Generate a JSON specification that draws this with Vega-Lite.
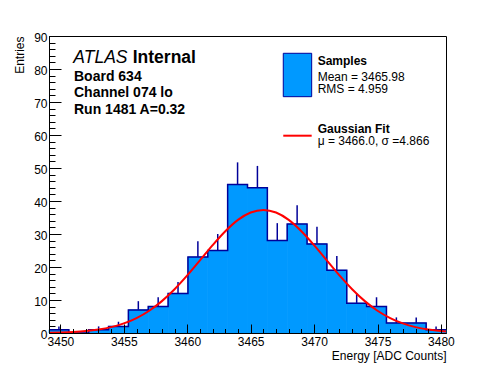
{
  "$schema": "https://vega.github.io/schema/vega-lite/v6.json",
  "width": 397,
  "height": 297,
  "autosize": "none",
  "padding": {"left": 49, "top": 36, "right": 50, "bottom": 39},
  "config": {
    "font": "Liberation Sans",
    "view": {"stroke": "black", "strokeWidth": 1},
    "axis": {"grid": false}
  },
  "datasets": {
    "hist": [
      {"lo": 3449.1, "hi": 3450.665, "mid": 3449.8825, "n": 1, "err": 1},
      {"lo": 3450.665, "hi": 3452.23, "mid": 3451.4475, "n": 0, "err": 0},
      {"lo": 3452.23, "hi": 3453.795, "mid": 3453.0125, "n": 1, "err": 1},
      {"lo": 3453.795, "hi": 3455.36, "mid": 3454.5775, "n": 2, "err": 1.414},
      {"lo": 3455.36, "hi": 3456.925, "mid": 3456.1425, "n": 7, "err": 2.646},
      {"lo": 3456.925, "hi": 3458.49, "mid": 3457.7075, "n": 8, "err": 2.828},
      {"lo": 3458.49, "hi": 3460.055, "mid": 3459.2725, "n": 12, "err": 3.464},
      {"lo": 3460.055, "hi": 3461.62, "mid": 3460.8375, "n": 23, "err": 4.796},
      {"lo": 3461.62, "hi": 3463.185, "mid": 3462.4025, "n": 25, "err": 5},
      {"lo": 3463.185, "hi": 3464.75, "mid": 3463.9675, "n": 45, "err": 6.708},
      {"lo": 3464.75, "hi": 3466.315, "mid": 3465.5325, "n": 44, "err": 6.633},
      {"lo": 3466.315, "hi": 3467.88, "mid": 3467.0975, "n": 28, "err": 5.292},
      {"lo": 3467.88, "hi": 3469.445, "mid": 3468.6625, "n": 33, "err": 5.745},
      {"lo": 3469.445, "hi": 3471.01, "mid": 3470.2275, "n": 27, "err": 5.196},
      {"lo": 3471.01, "hi": 3472.575, "mid": 3471.7925, "n": 19, "err": 4.359},
      {"lo": 3472.575, "hi": 3474.14, "mid": 3473.3575, "n": 9, "err": 3},
      {"lo": 3474.14, "hi": 3475.705, "mid": 3474.9225, "n": 8, "err": 2.828},
      {"lo": 3475.705, "hi": 3477.27, "mid": 3476.4875, "n": 3, "err": 1.732},
      {"lo": 3477.27, "hi": 3478.835, "mid": 3478.0525, "n": 3, "err": 1.732},
      {"lo": 3478.835, "hi": 3480.4, "mid": 3479.6175, "n": 1, "err": 1}
    ],
    "fit": [
      {"x": 3449.1, "f": 0.09}, {"x": 3450, "f": 0.17}, {"x": 3451, "f": 0.32},
      {"x": 3452, "f": 0.59}, {"x": 3453, "f": 1.05}, {"x": 3454, "f": 1.78},
      {"x": 3455, "f": 2.9}, {"x": 3456, "f": 4.52}, {"x": 3457, "f": 6.74},
      {"x": 3458, "f": 9.66}, {"x": 3459, "f": 13.26}, {"x": 3460, "f": 17.44},
      {"x": 3461, "f": 22.0}, {"x": 3462, "f": 26.61}, {"x": 3463, "f": 30.84},
      {"x": 3464, "f": 34.28}, {"x": 3465, "f": 36.52}, {"x": 3466, "f": 37.3},
      {"x": 3467, "f": 36.52}, {"x": 3468, "f": 34.28}, {"x": 3469, "f": 30.84},
      {"x": 3470, "f": 26.61}, {"x": 3471, "f": 22.0}, {"x": 3472, "f": 17.44},
      {"x": 3473, "f": 13.26}, {"x": 3474, "f": 9.66}, {"x": 3475, "f": 6.74},
      {"x": 3476, "f": 4.52}, {"x": 3477, "f": 2.9}, {"x": 3478, "f": 1.78},
      {"x": 3479, "f": 1.05}, {"x": 3480, "f": 0.59}, {"x": 3480.4, "f": 0.47}
    ]
  },
  "resolve": {"axis": {"x": "independent", "y": "independent"}},
  "layer": [
    {
      "data": {"name": "hist"},
      "mark": {"type": "errorbar", "color": "#000099", "thickness": 1.5},
      "encoding": {
        "x": {"field": "mid", "type": "quantitative", "scale": {"domain": [3449.1, 3480.4], "nice": false, "zero": false}, "axis": null},
        "y": {"field": "n", "type": "quantitative", "scale": {"domain": [0, 90], "nice": false}, "axis": null},
        "yError": {"field": "err"}
      }
    },
    {
      "data": {"name": "hist"},
      "mark": {"type": "rect", "fill": "#0099ff", "stroke": "#0099ff", "strokeWidth": 0.8},
      "encoding": {
        "x": {
          "field": "lo", "type": "quantitative",
          "scale": {"domain": [3449.1, 3480.4], "nice": false, "zero": false},
          "axis": {
            "orient": "bottom", "values": [3450, 3455, 3460, 3465, 3470, 3475, 3480], "format": "d",
            "ticks": false, "tickSize": 0, "domain": true, "domainColor": "black", "domainWidth": 1,
            "labelFontSize": 12, "labelColor": "black", "labelPadding": 3, "labelFlush": false, "labelOverlap": false,
            "zindex": 1,
            "title": "Energy [ADC Counts]", "titleFontSize": 12, "titleFontWeight": "normal", "titleColor": "black",
            "titleAnchor": "end", "titleAlign": "right", "titleBaseline": "alphabetic", "titleX": 397, "titleY": 26
          }
        },
        "x2": {"field": "hi"},
        "y": {
          "field": "n", "type": "quantitative",
          "scale": {"domain": [0, 90], "nice": false},
          "axis": {
            "orient": "left", "values": [0, 10, 20, 30, 40, 50, 60, 70, 80, 90], "format": "d",
            "ticks": false, "tickSize": 0, "domain": true, "domainColor": "black", "domainWidth": 1,
            "labelFontSize": 12, "labelColor": "black", "labelPadding": 2, "labelFlush": false, "labelOverlap": false,
            "labelBaseline": "middle", "labelOffset": 1.5,
            "zindex": 1,
            "title": "Entries", "titleFontSize": 12, "titleFontWeight": "normal", "titleColor": "black",
            "titleAngle": 270, "titleAlign": "right", "titleBaseline": "middle", "titleX": -30, "titleY": 0
          }
        },
        "y2": {"datum": 0}
      }
    },
    {
      "data": {"name": "hist"},
      "transform": [{"fold": ["lo", "hi"], "as": ["edge", "xv"]}],
      "mark": {"type": "line", "stroke": "#000099", "strokeWidth": 1.5},
      "encoding": {
        "x": {
          "field": "xv", "type": "quantitative",
          "scale": {"domain": [3449.1, 3480.4], "nice": false, "zero": false},
          "axis": {"orient": "bottom", "values": [3450, 3455, 3460, 3465, 3470, 3475, 3480], "labels": false, "domain": false, "tickSize": -9, "tickColor": "black", "tickWidth": 1, "title": null, "zindex": 1}
        },
        "y": {
          "field": "n", "type": "quantitative",
          "scale": {"domain": [0, 90], "nice": false},
          "axis": {"orient": "left", "values": [0, 10, 20, 30, 40, 50, 60, 70, 80, 90], "labels": false, "domain": false, "tickSize": -12, "tickColor": "black", "tickWidth": 1, "title": null, "zindex": 1}
        },
        "order": [{"field": "xv", "type": "quantitative"}, {"field": "edge", "type": "nominal"}]
      }
    },
    {
      "data": {"name": "fit"},
      "mark": {"type": "line", "stroke": "#ff0000", "strokeWidth": 2, "interpolate": "monotone"},
      "encoding": {
        "x": {
          "field": "x", "type": "quantitative",
          "scale": {"domain": [3449.1, 3480.4], "nice": false, "zero": false},
          "axis": {"orient": "bottom", "values": [3450, 3451, 3452, 3453, 3454, 3455, 3456, 3457, 3458, 3459, 3460, 3461, 3462, 3463, 3464, 3465, 3466, 3467, 3468, 3469, 3470, 3471, 3472, 3473, 3474, 3475, 3476, 3477, 3478, 3479, 3480], "labels": false, "domain": false, "tickSize": -4.5, "tickColor": "black", "tickWidth": 1, "title": null, "zindex": 1}
        },
        "y": {
          "field": "f", "type": "quantitative",
          "scale": {"domain": [0, 90], "nice": false},
          "axis": {"orient": "left", "values": [0, 2, 4, 6, 8, 10, 12, 14, 16, 18, 20, 22, 24, 26, 28, 30, 32, 34, 36, 38, 40, 42, 44, 46, 48, 50, 52, 54, 56, 58, 60, 62, 64, 66, 68, 70, 72, 74, 76, 78, 80, 82, 84, 86, 88, 90], "labels": false, "domain": false, "tickSize": -6, "tickColor": "black", "tickWidth": 1, "title": null, "zindex": 1}
        }
      }
    },
    {
      "data": {"values": [{}]},
      "mark": {"type": "rect", "fill": "#0099ff", "stroke": "#000099", "strokeWidth": 1},
      "encoding": {
        "x": {"datum": 3467.57, "type": "quantitative", "axis": null},
        "x2": {"datum": 3469.81},
        "y": {"datum": 84.76, "type": "quantitative", "axis": null},
        "y2": {"datum": 71.61}
      }
    },
    {
      "data": {"values": [{}]},
      "mark": {"type": "rule", "stroke": "#ff0000", "strokeWidth": 2},
      "encoding": {
        "x": {"datum": 3467.57, "type": "quantitative", "axis": null},
        "x2": {"datum": 3469.81},
        "y": {"datum": 59.79, "type": "quantitative", "axis": null}
      }
    },
    {
      "data": {"values": [{}]},
      "mark": {"type": "text", "text": "ATLAS", "fontSize": 17.5, "fontStyle": "italic", "align": "left", "baseline": "alphabetic", "color": "black"},
      "encoding": {"x": {"datum": 3451.02, "type": "quantitative", "axis": null}, "y": {"datum": 81.73, "type": "quantitative", "axis": null}}
    },
    {
      "data": {"values": [{}]},
      "mark": {"type": "text", "text": "Internal", "fontSize": 17.5, "fontWeight": "bold", "align": "left", "baseline": "alphabetic", "color": "black"},
      "encoding": {"x": {"datum": 3455.7, "type": "quantitative", "axis": null}, "y": {"datum": 81.73, "type": "quantitative", "axis": null}}
    },
    {
      "data": {"values": [{}]},
      "mark": {"type": "text", "text": "Board 634", "fontSize": 14, "fontWeight": "bold", "align": "left", "baseline": "alphabetic", "color": "black"},
      "encoding": {"x": {"datum": 3451.07, "type": "quantitative", "axis": null}, "y": {"datum": 76.45, "type": "quantitative", "axis": null}}
    },
    {
      "data": {"values": [{}]},
      "mark": {"type": "text", "text": "Channel 074 lo", "fontSize": 14, "fontWeight": "bold", "align": "left", "baseline": "alphabetic", "color": "black"},
      "encoding": {"x": {"datum": 3451.07, "type": "quantitative", "axis": null}, "y": {"datum": 71.42, "type": "quantitative", "axis": null}}
    },
    {
      "data": {"values": [{}]},
      "mark": {"type": "text", "text": "Run 1481 A=0.32", "fontSize": 14, "fontWeight": "bold", "align": "left", "baseline": "alphabetic", "color": "black"},
      "encoding": {"x": {"datum": 3451.07, "type": "quantitative", "axis": null}, "y": {"datum": 66.36, "type": "quantitative", "axis": null}}
    },
    {
      "data": {"values": [{}]},
      "mark": {"type": "text", "text": "Samples", "fontSize": 12, "fontWeight": "bold", "align": "left", "baseline": "alphabetic", "color": "black"},
      "encoding": {"x": {"datum": 3470.28, "type": "quantitative", "axis": null}, "y": {"datum": 81.21, "type": "quantitative", "axis": null}}
    },
    {
      "data": {"values": [{}]},
      "mark": {"type": "text", "text": "Mean = 3465.98", "fontSize": 12, "align": "left", "baseline": "alphabetic", "color": "black"},
      "encoding": {"x": {"datum": 3470.28, "type": "quantitative", "axis": null}, "y": {"datum": 76.45, "type": "quantitative", "axis": null}}
    },
    {
      "data": {"values": [{}]},
      "mark": {"type": "text", "text": "RMS = 4.959", "fontSize": 12, "align": "left", "baseline": "alphabetic", "color": "black"},
      "encoding": {"x": {"datum": 3470.28, "type": "quantitative", "axis": null}, "y": {"datum": 72.64, "type": "quantitative", "axis": null}}
    },
    {
      "data": {"values": [{}]},
      "mark": {"type": "text", "text": "Gaussian Fit", "fontSize": 12, "fontWeight": "bold", "align": "left", "baseline": "alphabetic", "color": "black"},
      "encoding": {"x": {"datum": 3470.28, "type": "quantitative", "axis": null}, "y": {"datum": 60.7, "type": "quantitative", "axis": null}}
    },
    {
      "data": {"values": [{}]},
      "mark": {"type": "text", "text": "μ = 3466.0, σ =4.866", "fontSize": 12, "align": "left", "baseline": "alphabetic", "color": "black"},
      "encoding": {"x": {"datum": 3470.28, "type": "quantitative", "axis": null}, "y": {"datum": 56.97, "type": "quantitative", "axis": null}}
    }
  ]
}
